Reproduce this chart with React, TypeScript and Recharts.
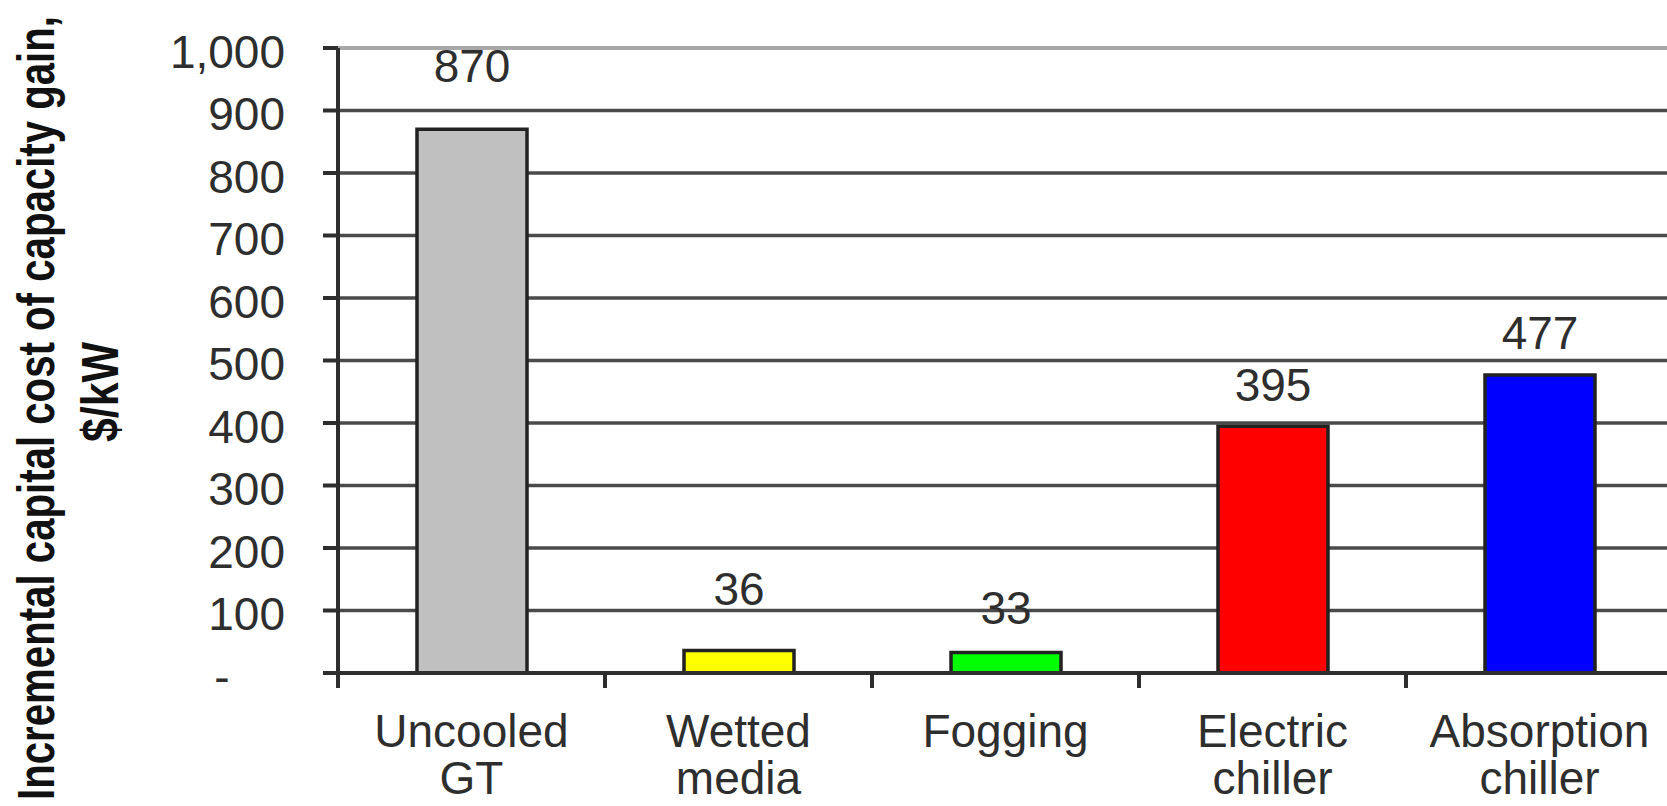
import React from 'react'
import { BarChart, Bar, XAxis, YAxis, CartesianGrid, Cell, LabelList, ReferenceLine } from 'recharts'

const categories = ['Uncooled GT', 'Wetted media', 'Fogging', 'Electric chiller', 'Absorption chiller']
const categoryLines = [['Uncooled', 'GT'], ['Wetted', 'media'], ['Fogging'], ['Electric', 'chiller'], ['Absorption', 'chiller']]
const costs = [870, 36, 33, 395, 477]
const barColors = ['#c0c0c0', '#ffff00', '#00ff00', '#ff0000', '#0000ff']
const yTicks = [0, 100, 200, 300, 400, 500, 600, 700, 800, 900, 1000]
// how far each value label sits above its bar, px
const labelLift = [64, 62, 45, 42, 42]

const data = categories.map((name, i) => ({ name, cost: costs[i] }))

const FONT = '"Liberation Sans", Arial, Helvetica, sans-serif'
const INK = '#2e2e2e'
const CHART_W = 1700
const CHART_H = 806
const Y_AXIS_W = 338
const MARGIN = { top: 48, right: 27, bottom: 0, left: 0 }
const PLOT_W = CHART_W - MARGIN.left - MARGIN.right - Y_AXIS_W

function ValueTick({ x, y, payload }: any) {
  const v = Number(payload.value)
  if (v === 0) {
    return (
      <text x={x - 63} y={y + 3} dy="0.36em" textAnchor="middle" fontSize={46} fontFamily={FONT} fill={INK}>
        -
      </text>
    )
  }
  return (
    <text x={x} y={y + 3} dy="0.36em" textAnchor="end" fontSize={46} fontFamily={FONT} fill={INK}>
      {v.toLocaleString('en-US')}
    </text>
  )
}

function CategoryTick({ x, y, payload }: any) {
  const i = categories.indexOf(payload.value)
  const band = PLOT_W / categories.length
  const left = x - band / 2
  const lines = categoryLines[i] || [String(payload.value)]
  return (
    <g>
      <line x1={left} y1={y} x2={left} y2={y + 15} stroke={INK} strokeWidth={4} />
      <text textAnchor="middle" fontSize={46} fontFamily={FONT} fill={INK}>
        {lines.map((line, k) => (
          <tspan key={k} x={x} y={y + 74 + k * 47}>
            {line}
          </tspan>
        ))}
      </text>
    </g>
  )
}

function ValueLabel(p: any) {
  const i = p.index ?? costs.indexOf(Number(p.value))
  return (
    <text
      x={p.x + p.width / 2}
      y={p.y - labelLift[i]}
      dy="0.36em"
      textAnchor="middle"
      fontSize={46}
      fontFamily={FONT}
      fill={INK}
    >
      {p.value}
    </text>
  )
}

function AxisTitle() {
  return (
    <g fontFamily={FONT} fontWeight={700} fontSize={52} fill="#111">
      <text x={54} y={800} transform="rotate(-90 54 800)" textLength={784} lengthAdjust="spacingAndGlyphs">
        Incremental capital cost of capacity gain,
      </text>
      <text x={118} y={442} transform="rotate(-90 118 442)" textLength={100} lengthAdjust="spacingAndGlyphs">
        $/kW
      </text>
    </g>
  )
}

export default function App() {
  return (
    <div
      style={{
        position: 'fixed',
        left: 0,
        top: 0,
        width: 1667,
        height: 806,
        overflow: 'hidden',
        background: '#fff',
      }}
    >
      <BarChart width={CHART_W} height={CHART_H} data={data} margin={MARGIN}>
        <CartesianGrid vertical={false} stroke="#4a4a4a" strokeWidth={3.5} />
        <ReferenceLine y={1000} stroke="#a8a8a8" strokeWidth={4} />
        <XAxis
          dataKey="name"
          height={133}
          interval={0}
          tickSize={0}
          tickMargin={0}
          tickLine={false}
          axisLine={{ stroke: INK, strokeWidth: 4 }}
          tick={<CategoryTick />}
        />
        <YAxis
          width={Y_AXIS_W}
          domain={[0, 1000]}
          ticks={yTicks}
          interval={0}
          tickSize={15}
          tickMargin={38}
          axisLine={{ stroke: INK, strokeWidth: 4 }}
          tickLine={{ stroke: INK, strokeWidth: 4 }}
          tick={<ValueTick />}
          label={{ content: () => <AxisTitle /> }}
        />
        <Bar dataKey="cost" barSize={110} stroke="#222" strokeWidth={3.5} isAnimationActive={false}>
          {costs.map((_, i) => (
            <Cell key={i} fill={barColors[i]} />
          ))}
          <LabelList dataKey="cost" content={<ValueLabel />} />
        </Bar>
      </BarChart>
    </div>
  )
}
